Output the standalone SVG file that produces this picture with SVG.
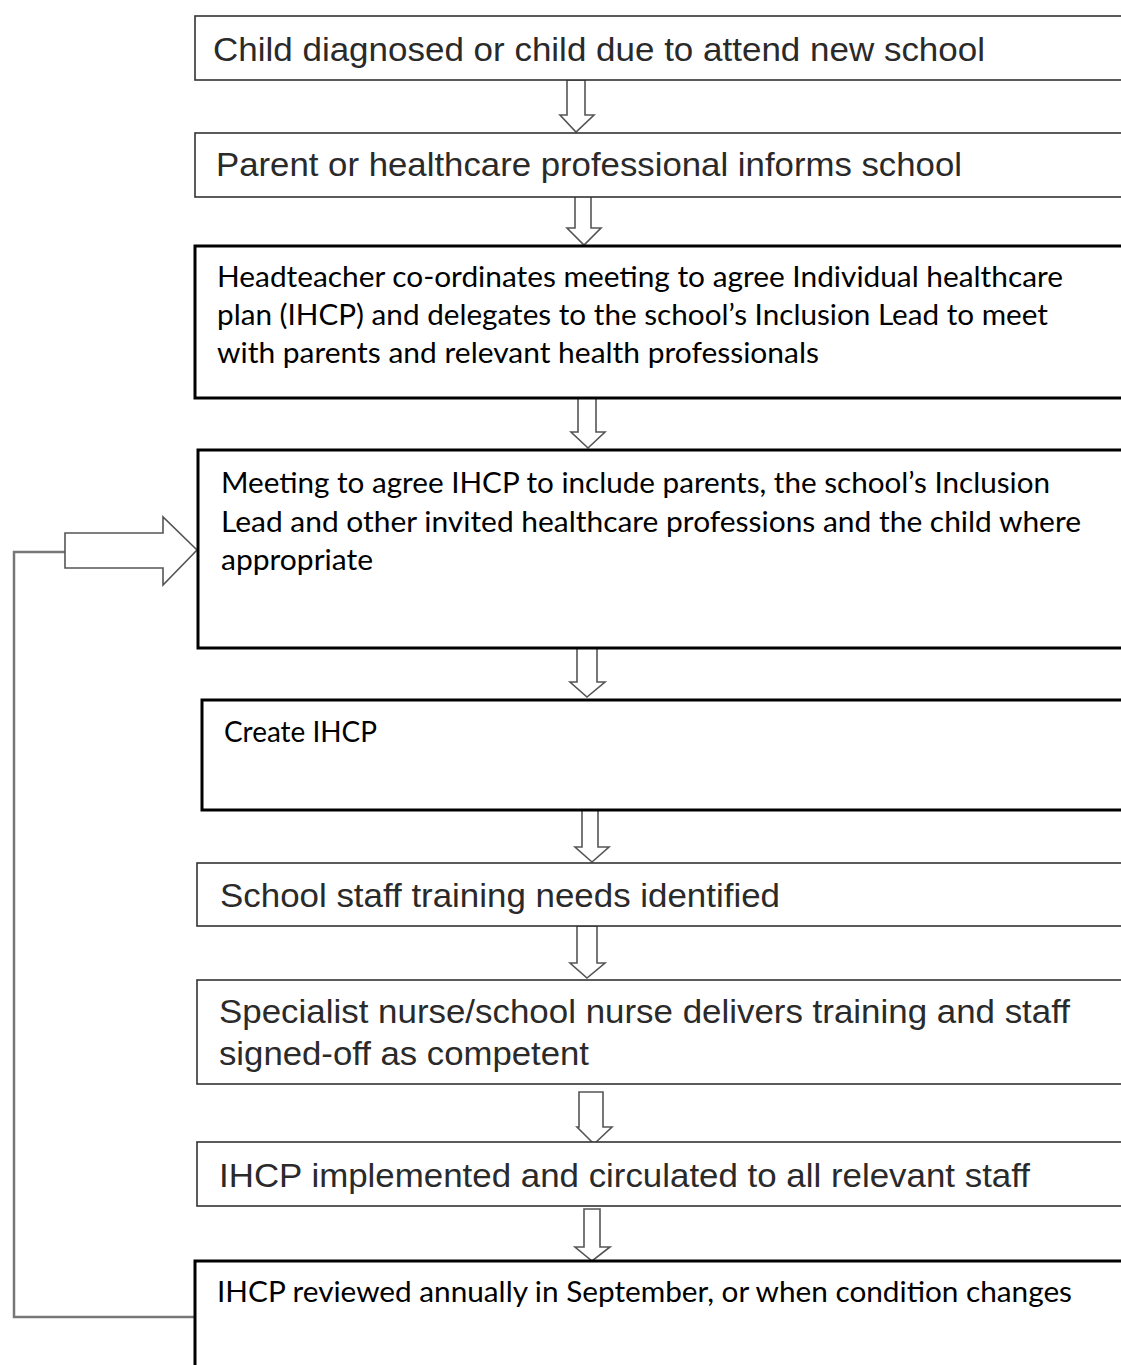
<svg xmlns="http://www.w3.org/2000/svg" width="1121" height="1365" viewBox="0 0 1121 1365">
<style>
.thin{fill:#fff;stroke:#333;stroke-width:1.6}
.thick{fill:#fff;stroke:#000;stroke-width:3}
.arr{fill:#fff;stroke:#555;stroke-width:1.6;stroke-linejoin:miter}
.a{font-family:"Liberation Sans",Arial,sans-serif;font-size:34px;fill:#2a2a2a}
.c{font-family:Lato,"Open Sans",sans-serif;font-size:28px;fill:#000}
</style>
<rect width="1121" height="1365" fill="#fff"/>
<g id="connectors">
<polyline points="195,1317 14,1317 14,552 65,552" fill="none" stroke="#777" stroke-width="2.5"/>
<polygon class="arr" points="65,533 163,533 163,517 197,550 163,585 163,568 65,568"/>
<polygon class="arr" points="567,80 585,80 585,115 594,115 576,132 560,115 567,115"/>
<polygon class="arr" points="575,196 591,196 591,228 601,228 584,245 567,228 575,228"/>
<polygon class="arr" points="578,398 596,398 596,432 605,432 588,448 571,432 578,432"/>
<polygon class="arr" points="577,648 597,648 597,682 605,682 587,697 570,682 577,682"/>
<polygon class="arr" points="582,810 598,810 598,847 609,847 592,862 575,847 582,847"/>
<polygon class="arr" points="577,926 597,926 597,963 605,963 587,978 570,963 577,963"/>
<polygon class="arr" points="579,1092 603,1092 603,1127 612,1127 594,1144 577,1127 579,1127"/>
<polygon class="arr" points="584,1209 600,1209 600,1247 610,1247 592,1261 575,1247 584,1247"/>
</g>
<g id="n1"><rect class="thin" x="195" y="16" width="940" height="64"/>
<text class="a" x="213" y="61" textLength="772" lengthAdjust="spacingAndGlyphs">Child diagnosed or child due to attend new school</text></g>
<g id="n2"><rect class="thin" x="195" y="133" width="940" height="64"/>
<text class="a" x="216" y="176" textLength="746" lengthAdjust="spacingAndGlyphs">Parent or healthcare professional informs school</text></g>
<g id="n3"><rect class="thick" x="195" y="246" width="940" height="152"/>
<text class="c" x="217" y="287" textLength="846" lengthAdjust="spacingAndGlyphs">Headteacher co-ordinates meeting to agree Individual healthcare</text>
<text class="c" x="217" y="325" textLength="831" lengthAdjust="spacingAndGlyphs">plan (IHCP) and delegates to the school’s Inclusion Lead to meet</text>
<text class="c" x="217" y="363" textLength="602" lengthAdjust="spacingAndGlyphs">with parents and relevant health professionals</text></g>
<g id="n4"><rect class="thick" x="198" y="450" width="940" height="198"/>
<text class="c" x="221" y="493" textLength="829" lengthAdjust="spacingAndGlyphs">Meeting to agree IHCP to include parents, the school’s Inclusion</text>
<text class="c" x="221" y="532" textLength="860" lengthAdjust="spacingAndGlyphs">Lead and other invited healthcare professions and the child where</text>
<text class="c" x="221" y="570" textLength="152" lengthAdjust="spacingAndGlyphs">appropriate</text></g>
<g id="n5"><rect class="thick" x="202" y="700" width="940" height="110"/>
<text class="c" x="224" y="742" textLength="153" lengthAdjust="spacingAndGlyphs">Create IHCP</text></g>
<g id="n6"><rect class="thin" x="197" y="863" width="940" height="63"/>
<text class="a" x="220" y="907" textLength="560" lengthAdjust="spacingAndGlyphs">School staff training needs identified</text></g>
<g id="n7"><rect class="thin" x="197" y="980" width="940" height="104"/>
<text class="a" x="219" y="1023" textLength="851" lengthAdjust="spacingAndGlyphs">Specialist nurse/school nurse delivers training and staff</text>
<text class="a" x="219" y="1065" textLength="370" lengthAdjust="spacingAndGlyphs">signed-off as competent</text></g>
<g id="n8"><rect class="thin" x="197" y="1142" width="940" height="64"/>
<text class="a" x="219" y="1187" textLength="811" lengthAdjust="spacingAndGlyphs">IHCP implemented and circulated to all relevant staff</text></g>
<g id="n9"><rect class="thick" x="195" y="1261" width="940" height="140"/>
<text class="c" x="217" y="1302" textLength="855" lengthAdjust="spacingAndGlyphs">IHCP reviewed annually in September, or when condition changes</text></g>
</svg>
